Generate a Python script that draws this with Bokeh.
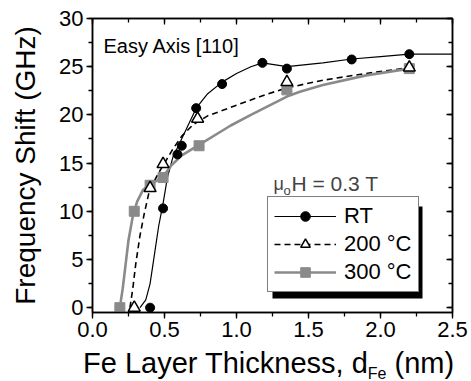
from bokeh.plotting import figure
from bokeh.models import (Range1d, LinearAxis, Label, Legend, LegendItem,
                          BoxAnnotation, FixedTicker, Div, CustomJSTickFormatter)
from bokeh.layouts import column
from bokeh.embed import file_html
from bokeh.resources import INLINE

# ---- data ----
rt_x = [0.40, 0.49, 0.59, 0.62, 0.72, 0.90, 1.18, 1.35, 1.80, 2.20]
rt_y = [0.0, 10.3, 15.9, 16.8, 20.7, 23.2, 25.4, 24.8, 25.75, 26.3]

t200_x = [0.29, 0.40, 0.49, 0.73, 1.35, 2.20]
t200_y = [0.0, 12.4, 14.9, 19.6, 23.4, 24.9]

t300_x = [0.19, 0.29, 0.40, 0.49, 0.74, 1.35, 2.20]
t300_y = [0.0, 10.0, 12.7, 13.5, 16.8, 22.6, 24.8]

# guide curves
rt_curve_x = [0.33, 0.37, 0.40, 0.43, 0.46, 0.49, 0.52, 0.56, 0.60, 0.66, 0.72,
              0.80, 0.90, 1.00, 1.10, 1.18, 1.35, 1.60, 1.80, 2.00, 2.20, 2.50]
rt_curve_y = [0.0, 0.8, 2.5, 5.5, 8.5, 10.8, 13.5, 15.7, 16.9, 18.8, 20.7,
              22.2, 23.4, 24.3, 25.0, 25.4, 25.0, 25.4, 25.8, 26.05, 26.3, 26.3]

t200_curve_x = [0.26, 0.28, 0.30, 0.33, 0.36, 0.39, 0.42, 0.46, 0.50, 0.56, 0.62,
                0.70, 0.80, 1.00, 1.20, 1.35, 1.60, 1.90, 2.20]
t200_curve_y = [0.0, 2.0, 4.5, 7.5, 9.8, 11.8, 12.9, 14.0, 15.0, 16.5, 17.8,
                19.0, 19.9, 21.0, 22.1, 22.8, 23.6, 24.3, 24.9]

t300_curve_x = [0.19, 0.21, 0.23, 0.25, 0.28, 0.31, 0.35, 0.40, 0.45, 0.49, 0.55,
                0.62, 0.74, 0.96, 1.10, 1.35, 1.44, 1.60, 1.90, 2.20]
t300_curve_y = [0.0, 2.0, 4.5, 7.0, 9.5, 11.0, 12.2, 12.8, 13.2, 13.6, 14.8,
                15.8, 16.9, 18.9, 20.0, 21.9, 22.4, 23.1, 24.1, 24.8]

x_ticks = [0.0, 0.5, 1.0, 1.5, 2.0, 2.5]
y_ticks = [0, 5, 10, 15, 20, 25, 30]
series_labels = ["RT", "200 °C", "300 °C"]

FONT = "Liberation Sans"
GRAY = "#8a8a8a"

p = figure(width=471, height=349, output_backend="svg", toolbar_location=None,
           x_range=Range1d(0, 2.5), y_range=Range1d(-0.5, 30),
           min_border_left=92, min_border_right=19, min_border_top=18,
           min_border_bottom=37)
p.background_fill_color = "white"
p.border_fill_color = "white"
p.grid.visible = False
p.outline_line_color = "black"
p.outline_line_width = 1.5

def style_axis(ax, labels=True, inward=False):
    ax.axis_line_color = "black"
    ax.axis_line_width = 1.5
    ax.major_tick_line_color = "black"
    ax.minor_tick_line_color = "black"
    ax.major_tick_line_width = 1.3
    ax.minor_tick_line_width = 1.3
    if inward:
        ax.major_tick_in = 6
        ax.major_tick_out = 0
        ax.minor_tick_in = 4
        ax.minor_tick_out = 0
    else:
        ax.major_tick_in = 0
        ax.major_tick_out = 6
        ax.minor_tick_in = 0
        ax.minor_tick_out = 4
    if labels:
        ax.major_label_text_font = FONT
        ax.major_label_text_font_size = "22px"
        ax.major_label_text_color = "black"
        ax.major_label_standoff = 3
    else:
        ax.formatter = CustomJSTickFormatter(code="return ''")
        ax.major_label_standoff = 0

xt = FixedTicker(ticks=x_ticks, minor_ticks=[i * 0.25 for i in range(11)])
yt = FixedTicker(ticks=y_ticks, minor_ticks=[i * 2.5 for i in range(13)])

p.xaxis.ticker = xt
p.yaxis.ticker = yt
style_axis(p.xaxis[0])
style_axis(p.yaxis[0])
p.xaxis.major_label_overrides = {0.0: "0.0", 1.0: "1.0", 2.0: "2.0"}

p.yaxis.axis_label = "Frequency Shift (GHz)"
p.yaxis.axis_label_text_font = FONT
p.yaxis.axis_label_text_font_size = "28px"
p.yaxis.axis_label_text_font_style = "normal"
p.yaxis.axis_label_text_color = "black"
p.yaxis.axis_label_standoff = 15

top = LinearAxis(ticker=xt)
right = LinearAxis(ticker=yt)
style_axis(top, labels=False, inward=True)
style_axis(right, labels=False, inward=True)
p.add_layout(top, "above")
p.add_layout(right, "right")

# curves
l_rt = p.line(rt_curve_x, rt_curve_y, line_color="black", line_width=1.2)
l_200 = p.line(t200_curve_x, t200_curve_y, line_color="black", line_width=1.6,
               line_dash="6 4")
l_300 = p.line(t300_curve_x, t300_curve_y, line_color=GRAY, line_width=2.6)

# markers
m_300 = p.scatter(t300_x, t300_y, marker="square", size=10, fill_color=GRAY,
                  line_color=GRAY)
m_200 = p.scatter(t200_x, t200_y, marker="triangle", size=12, fill_color="white",
                  line_color="black", line_width=1.5)
m_rt = p.scatter(rt_x, rt_y, marker="circle", size=9, fill_color="black",
                 line_color="black")

# legend + its drop shadow (screen offsets from the frame's bottom-left)
LEG_X, LEG_Y, LEG_W, LEG_H = 175, 20, 150, 92
shadow = BoxAnnotation(left=LEG_X + 5, right=LEG_X + LEG_W + 5,
                       bottom=LEG_Y - 6, top=LEG_Y + LEG_H - 6,
                       left_units="screen", right_units="screen",
                       top_units="screen", bottom_units="screen",
                       fill_color="black", fill_alpha=1.0, line_color=None,
                       level="annotation")
p.add_layout(shadow)

legend = Legend(items=[LegendItem(label=series_labels[0], renderers=[l_rt, m_rt]),
                       LegendItem(label=series_labels[1], renderers=[l_200, m_200]),
                       LegendItem(label=series_labels[2], renderers=[l_300, m_300])],
                location=(LEG_X, LEG_Y), margin=0, padding=6, spacing=2,
                glyph_width=62, glyph_height=24, label_height=24,
                label_standoff=8, label_text_font=FONT,
                label_text_font_size="22px", label_text_color="black",
                border_line_color="black", border_line_width=1.5,
                background_fill_color="white", background_fill_alpha=1.0)
p.add_layout(legend)

# in-plot annotations
p.add_layout(Label(x=11, y=267, x_units="screen", y_units="screen",
                   text="Easy Axis [110]", text_font=FONT, text_font_size="20px",
                   text_color="black", text_baseline="alphabetic"))
p.add_layout(Label(x=181, y=129, x_units="screen", y_units="screen",
                   text="μ", text_font=FONT, text_font_size="18px",
                   text_baseline="alphabetic"))
p.add_layout(Label(x=191, y=122, x_units="screen", y_units="screen",
                   text="o", text_font=FONT, text_font_size="13px",
                   text_baseline="alphabetic"))
p.add_layout(Label(x=199, y=129, x_units="screen", y_units="screen",
                   text="H = 0.3 T", text_font=FONT, text_font_size="21px",
                   text_baseline="alphabetic"))

# x-axis title with subscript, as real text below the plot
xtitle = Div(
    text=("<div style=\"font-family:'Liberation Sans';font-size:29px;"
          "line-height:28px;white-space:nowrap;padding-left:83px;color:black\">"
          "Fe Layer Thickness, d<sub style=\"font-size:16px;vertical-align:-6px;"
          "line-height:0\">Fe</sub> (nm)</div>"),
    width=471, height=32, margin=0)

layout = column(p, xtitle, spacing=0)
open("out.html", "w").write(file_html(layout, INLINE))
